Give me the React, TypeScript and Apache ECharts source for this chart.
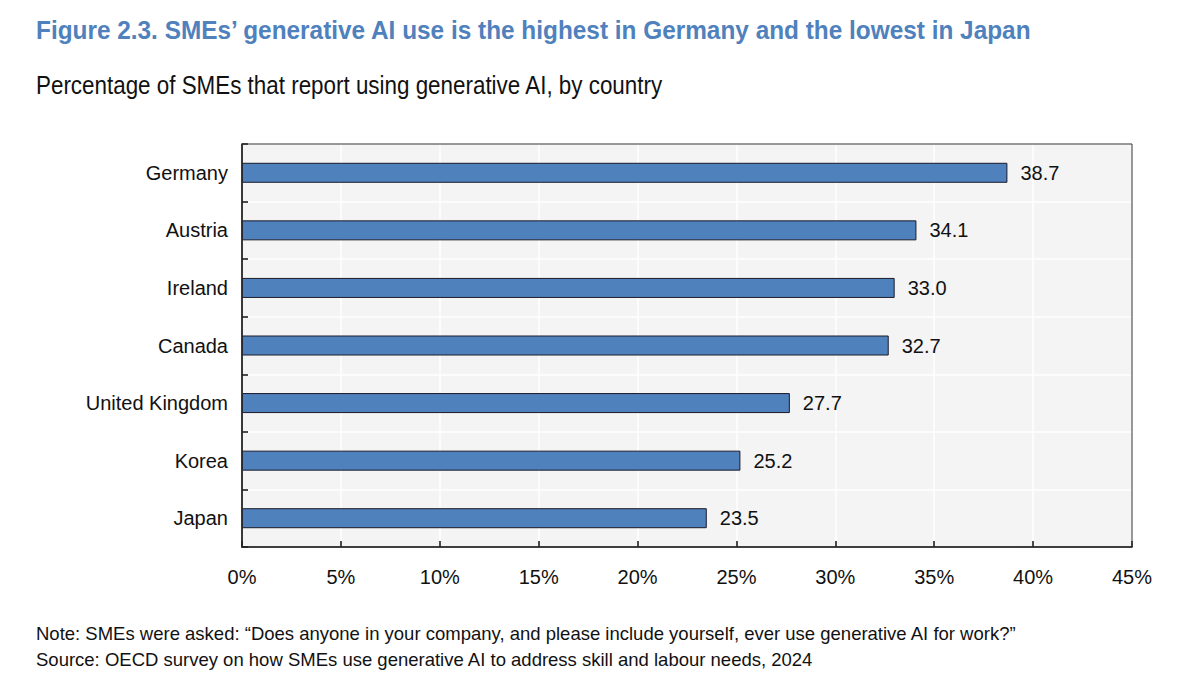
import React, { useEffect, useRef } from "react";
import * as echarts from "echarts";

const countries = ["Germany", "Austria", "Ireland", "Canada", "United Kingdom", "Korea", "Japan"];
const shares = [38.7, 34.1, 33.0, 32.7, 27.7, 25.2, 23.5];
const xTicks = [0, 5, 10, 15, 20, 25, 30, 35, 40, 45];

const titleText = "Figure 2.3. SMEs’ generative AI use is the highest in Germany and the lowest in Japan";
const subtitleText = "Percentage of SMEs that report using generative AI, by country";
const noteText = "Note: SMEs were asked: “Does anyone in your company, and please include yourself, ever use generative AI for work?”";
const sourceText = "Source: OECD survey on how SMEs use generative AI to address skill and labour needs, 2024";

const FONT = "'Liberation Sans', Arial, Helvetica, sans-serif";

const GRID = { left: 242, right: 68, top: 144, bottom: 151 };

export default function App() {
  const ref = useRef<HTMLDivElement>(null);
  useEffect(() => {
    document.body.style.margin = "0";
    const chart = echarts.init(ref.current!, null, { renderer: "svg" });
    const W = 1200;
    const H = 698;
    chart.setOption({
      animation: false,
      backgroundColor: "#ffffff",
      textStyle: { fontFamily: FONT },
      graphic: [
        {
          type: "text", x: 36, y: 30, scaleX: 0.92,
          style: { text: titleText, fontFamily: FONT, fontSize: 26.5, fontWeight: "bold", fill: "#4f81bd", verticalAlign: "middle" },
        },
        {
          type: "text", x: 36, y: 85, scaleX: 0.875,
          style: { text: subtitleText, fontFamily: FONT, fontSize: 25.6, fill: "#111111", verticalAlign: "middle" },
        },
        {
          type: "text", x: 36, y: 633,
          style: { text: noteText, fontFamily: FONT, fontSize: 18.5, fill: "#111111", verticalAlign: "middle" },
        },
        {
          type: "text", x: 36, y: 659,
          style: { text: sourceText, fontFamily: FONT, fontSize: 18.5, fill: "#111111", verticalAlign: "middle" },
        },
        {
          type: "rect", z: 100, silent: true,
          shape: { x: GRID.left, y: GRID.top, width: W - GRID.left - GRID.right, height: H - GRID.top - GRID.bottom },
          style: { fill: "none", stroke: "#333333", lineWidth: 1 },
        },
      ],
      grid: {
        ...GRID,
        show: true,
        backgroundColor: "#f4f4f4",
        borderWidth: 0,
      },
      xAxis: {
        type: "value",
        min: xTicks[0],
        max: xTicks[xTicks.length - 1],
        interval: 5,
        axisLine: { show: true, lineStyle: { color: "#111111", width: 1.6 } },
        axisTick: { show: true, inside: true, length: 6, lineStyle: { color: "#111111", width: 1.5 } },
        splitLine: { show: true, lineStyle: { color: "#ffffff", width: 1.5 } },
        axisLabel: { formatter: "{value}%", fontSize: 20, color: "#111111", margin: 20, fontFamily: FONT },
      },
      yAxis: {
        type: "category",
        data: countries,
        inverse: true,
        axisLine: { show: true, lineStyle: { color: "#111111", width: 1.6 } },
        axisTick: { show: true, inside: true, length: 6, lineStyle: { color: "#111111", width: 1.5 } },
        splitLine: { show: true, lineStyle: { color: "#ffffff", width: 1.5 } },
        axisLabel: { fontSize: 20, color: "#111111", margin: 14, fontFamily: FONT },
      },
      series: [
        {
          type: "bar",
          data: shares,
          barWidth: 20,
          itemStyle: { color: "#4f81bd", borderColor: "#1a1a2a", borderWidth: 1 },
          label: {
            show: true,
            position: "right",
            distance: 13,
            fontSize: 20,
            color: "#111111",
            fontFamily: FONT,
            formatter: (p: any) => Number(p.value).toFixed(1),
          },
        },
      ],
    });
    return () => chart.dispose();
  }, []);
  return <div ref={ref} style={{ width: 1200, height: 698 }} />;
}
